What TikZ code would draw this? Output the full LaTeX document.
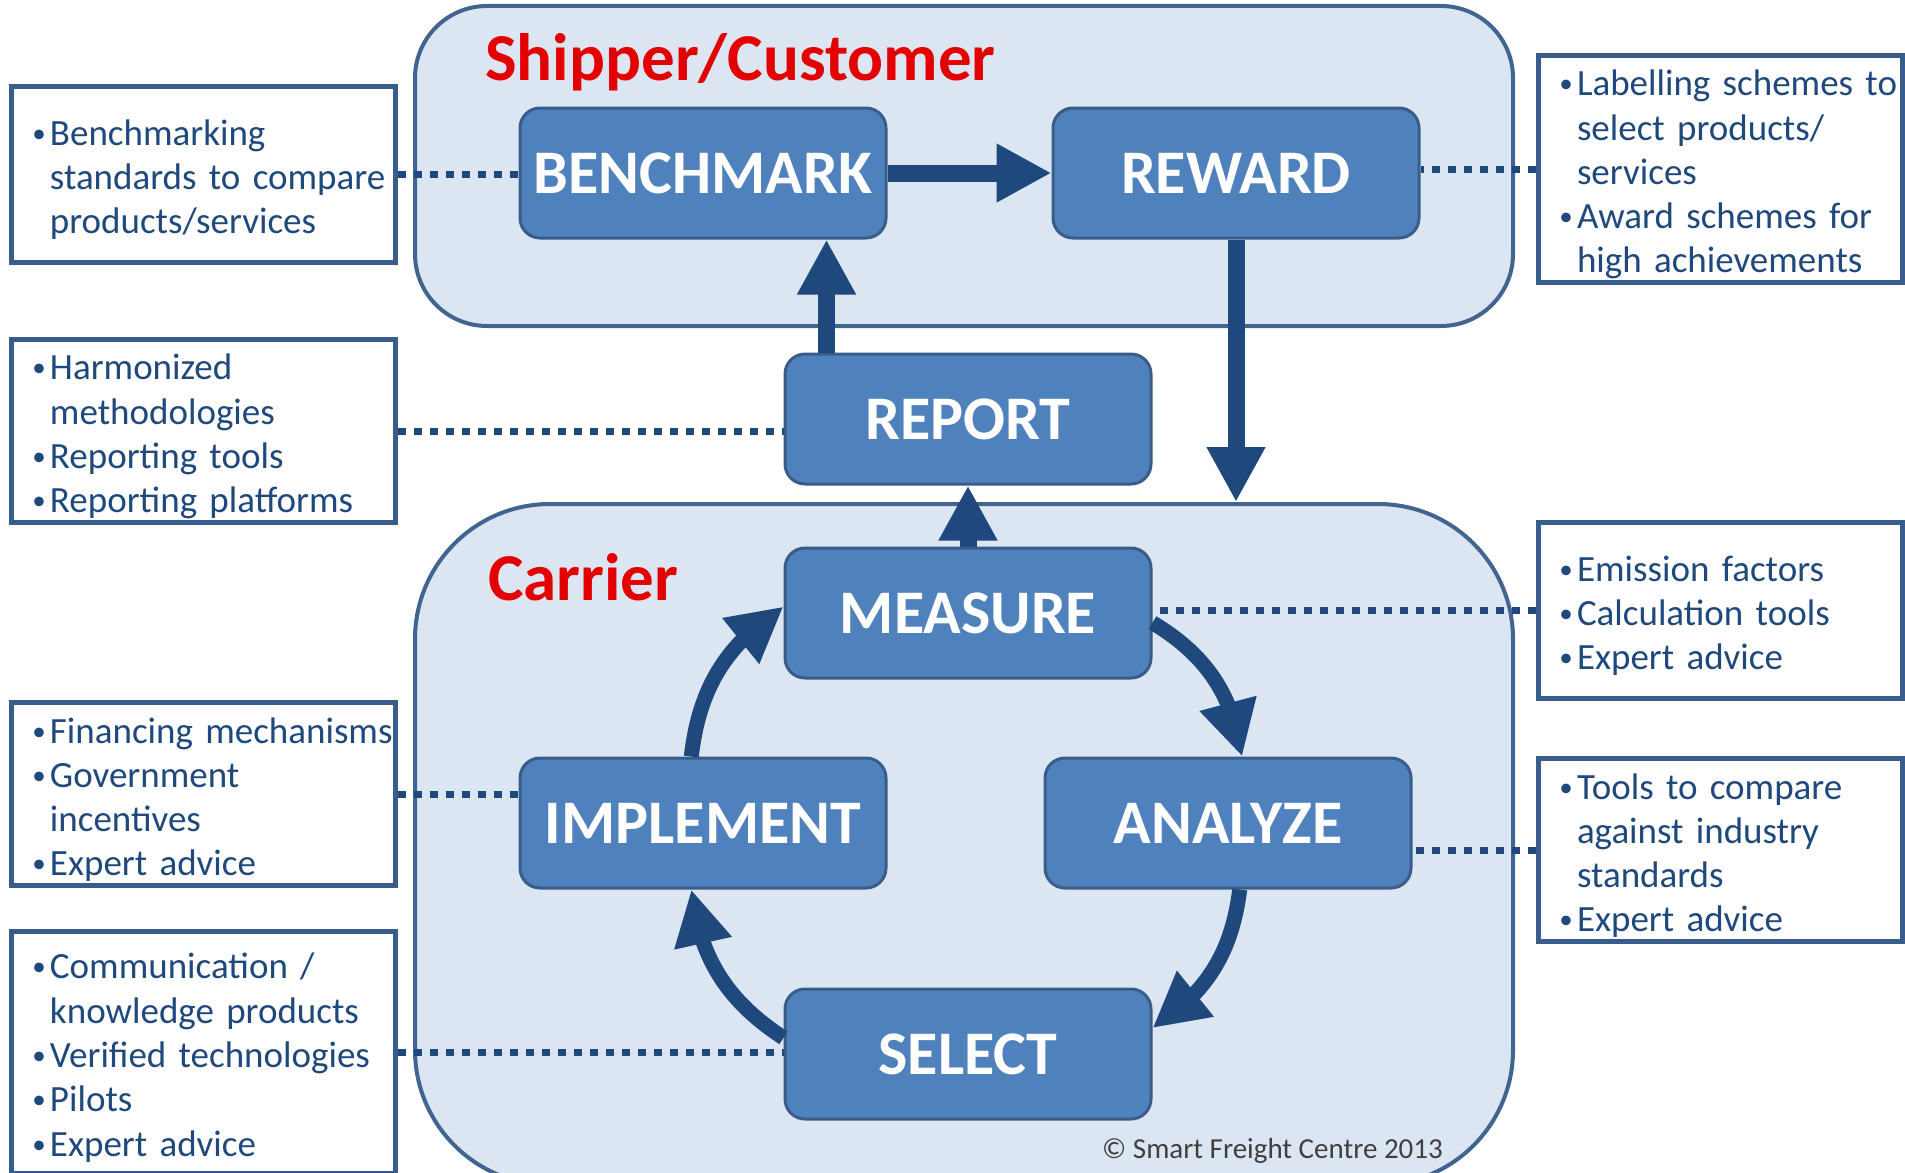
\documentclass[tikz,border=0pt]{standalone}
\usepackage{fontspec}
\setmainfont{Carlito}
\usetikzlibrary{arrows.meta,bending}

\definecolor{panelfill}{RGB}{220,230,242}
\definecolor{panelline}{RGB}{65,100,145}
\definecolor{stagefill}{RGB}{79,129,189}
\definecolor{stageline}{RGB}{56,93,138}
\definecolor{darkblue}{RGB}{31,73,125}
\definecolor{titlered}{RGB}{226,0,0}
\definecolor{notegray}{RGB}{64,64,64}

\newcommand{\itm}[1]{\mbox{\makebox[12pt][c]{\raisebox{3pt}{\fontsize{27}{27}\selectfont\textbullet}}\hspace*{5pt}#1}}
\newcommand{\cont}[1]{\mbox{\hspace*{17pt}#1}}

\tikzset{
	panel/.style={draw=panelline, line width=4pt, fill=panelfill, minimum width=1098pt},
	stage/.style={draw=stageline, line width=3pt, fill=stagefill, rounded corners=20pt,
		minimum width=366pt, minimum height=130pt, text=white,
		font=\fontsize{62}{62}\selectfont\bfseries},
	info/.style={draw=stageline, line width=5pt, fill=white, minimum height=176pt,
		text width=340pt, inner xsep=22pt, align=left, text=darkblue,
		font=\fontsize{37}{44.3}\selectfont, execute at begin node={\rule{0pt}{37pt}}},
	grouptitle/.style={text=titlered, anchor=base west, inner sep=0pt,
		font=\fontsize{67}{67}\selectfont\bfseries},
	bigarrow/.style={darkblue, line width=17pt, -{Triangle[length=55pt,width=55pt]}},
	cyclearrow/.style={darkblue, line width=15pt, -{Triangle[length=55pt,width=55pt]}},
	dotline/.style={darkblue, line width=7pt, dash pattern=on 8pt off 8pt},
}

\begin{document}
\begin{tikzpicture}[x=1pt,y=-1pt]

	\useasboundingbox (0,0) rectangle (1905,1172);
	\clip (0,0) rectangle (1905,1172);

\node[panel, rounded corners=72pt, minimum height=320pt] (shipper) at (964,166) {};
\node[panel, rounded corners=135pt, minimum height=681pt] (carrier) at (964,844.5) {};
\node[grouptitle] (shippertitle) at (485,81) {Shipper/Customer};
\node[grouptitle] (carriertitle) at (488,600) {Carrier};

\node[stage] (benchmark) at (703,173) {BENCHMARK};
\node[stage] (reward) at (1236,173) {REWARD};
\node[stage] (report) at (968,419) {REPORT};
\node[stage] (measure) at (968,613) {MEASURE};
\node[stage] (implement) at (703,823) {IMPLEMENT};
\node[stage] (analyze) at (1228,823) {ANALYZE};
\node[stage] (select) at (968,1054) {SELECT};

\node[info] (benchinfo) at (203,174) {\itm{Benchmarking}\\\cont{standards to compare}\\\cont{products/services}};
\node[info] (reportinfo) at (203,431) {\itm{Harmonized}\\\cont{methodologies}\\\itm{Reporting tools}\\\itm{Reporting platforms}};
\node[info] (implementinfo) at (203,794) {\itm{Financing mechanisms}\\\itm{Government}\\\cont{incentives}\\\itm{Expert advice}};
\node[info, minimum height=242pt] (selectinfo) at (203,1052) {\itm{Communication /}\\\cont{knowledge products}\\\itm{Verified technologies}\\\itm{Pilots}\\\itm{Expert advice}};
\node[info, text width=320pt, minimum height=226pt] (rewardinfo) at (1720,169) {\itm{Labelling schemes to}\\\cont{select products/}\\\cont{services}\\\itm{Award schemes for}\\\cont{high achievements}};
\node[info, text width=320pt] (measureinfo) at (1720,610) {\itm{Emission factors}\\\itm{Calculation tools}\\\itm{Expert advice}};
\node[info, text width=320pt] (analyzeinfo) at (1720,850) {\itm{Tools to compare}\\\cont{against industry}\\\cont{standards}\\\itm{Expert advice}};

\foreach \a/\b in {benchinfo/benchmark, reportinfo/report, implementinfo/implement, selectinfo/select}
	\draw[dotline] (\a.east) -- (\a.east -| \b.west);
\foreach \a/\b in {rewardinfo/reward, measureinfo/measure, analyzeinfo/analyze}
	\draw[dotline] (\a.west) -- (\a.west -| \b.east);

\draw[bigarrow] (benchmark.east) -- (reward.west);
\draw[bigarrow] (reward.south) -- (reward.south |- carrier.north);
\draw[bigarrow] ([xshift=43pt]report.north west) -- ([xshift=43pt]report.north west |- benchmark.south);
\draw[bigarrow] (measure.north) -- (report.south);

\draw[cyclearrow] (implement.100) to[bend left=25] (measure.178);
\draw[cyclearrow] (measure.-3) to[bend left=25] (analyze.78);
\draw[cyclearrow] (analyze.-80) to[bend left=25] (select.8);
\draw[cyclearrow] (select.175) to[bend left=25] (implement.-100);

\node[text=notegray, anchor=base west, inner sep=0pt, font=\fontsize{29}{29}\selectfont] (copyright) at (1102,1158) {\copyright{} Smart Freight Centre 2013};

\end{tikzpicture}
\end{document}
